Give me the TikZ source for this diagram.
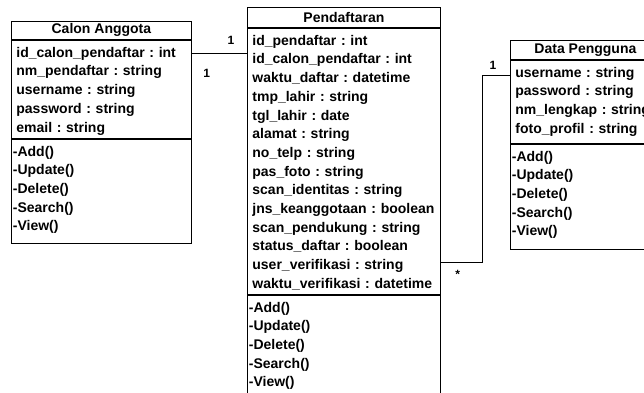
\documentclass[tikz,border=0pt]{standalone}
\usepackage{fontspec}
\setmainfont{Liberation Sans}
\usetikzlibrary{positioning,calc}
\frenchspacing

\begin{document}
\begin{tikzpicture}[x=1pt,y=-1pt,line width=0.8pt,
 b/.style={draw,inner sep=0pt,font=\bfseries\fontsize{14}{18.7}\selectfont},
 ttl/.style={b,anchor=north west},
 att/.style={b,align=left,inner xsep=5pt,execute at begin node={\rule{0pt}{17pt}}},
 ops/.style={att,inner xsep=1.5pt},
 bot/.style={execute at end node={\rule[-#1]{0pt}{0pt}}},
 mult/.style={font=\bfseries\fontsize{12}{14}\selectfont,inner sep=0pt}]
\useasboundingbox (0,0) rectangle (644,392);
% Calon Anggota
\node[ttl,minimum width=180pt,minimum height=18pt] (calon) at (11,21) {Calon Anggota};
\node[att,text width=170pt,bot=6.2pt,below=0pt of calon] (calonA)
 {id\_calon\_pendaftar : int\\ nm\_pendaftar : string\\ username : string\\ password : string\\ email : string};
\node[ops,text width=177pt,bot=12.2pt,below=0pt of calonA] (calonO)
 {-Add()\\ -Update()\\ -Delete()\\ -Search()\\ -View()};
% Pendaftaran
\node[ttl,minimum width=193pt,minimum height=20pt] (daftar) at (247,7) {Pendaftaran};
\node[att,text width=183pt,bot=5.9pt,below=0pt of daftar] (daftarA)
 {id\_pendaftar : int\\ id\_calon\_pendaftar : int\\ waktu\_daftar : datetime\\ tmp\_lahir : string\\
  tgl\_lahir : date\\ alamat : string\\ no\_telp : string\\ pas\_foto : string\\ scan\_identitas : string\\
  jns\_keanggotaan : boolean\\ scan\_pendukung : string\\ status\_daftar : boolean\\
  user\_verifikasi : string\\ waktu\_verifikasi : datetime};
\node[ops,text width=190pt,bot=11.2pt,below=0pt of daftarA] (daftarO)
 {-Add()\\ -Update()\\ -Delete()\\ -Search()\\ -View()};
% Data Pengguna
\node[ttl,minimum width=150pt,minimum height=19pt] (data) at (510,40) {Data Pengguna};
\node[att,text width=140pt,bot=9.9pt,below=0pt of data] (dataA)
 {username : string\\ password : string\\ nm\_lengkap : string\\ foto\_profil : string};
\node[ops,text width=147pt,bot=13.2pt,below=0pt of dataA] (dataO)
 {-Add()\\ -Update()\\ -Delete()\\ -Search()\\ -View()};
% relasi
\coordinate (c1) at ($(calonA.north east)+(0,14)$);
\draw (c1) -- (c1 -| daftarA.west);
\node[mult] at ($(c1)+(15,20)$) {1};
\node[mult] at ($(c1 -| daftarA.west)+(-16,-13)$) {1};
\coordinate (c2) at ($(daftarA.north east)+(0,235)$);
\coordinate (c3) at ($(dataA.north west)+(0,16)$);
\draw (c2) -- ++(42,0) |- (c3);
\node[mult] at ($(c2)+(17,12)$) {*};
\node[mult] at ($(c3)+(-17,-10)$) {1};
\end{tikzpicture}
\end{document}
